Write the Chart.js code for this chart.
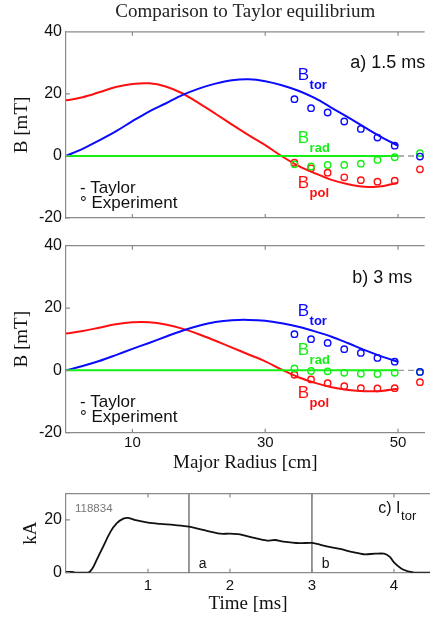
<!DOCTYPE html>
<html>
<head>
<meta charset="utf-8">
<script src="https://cdn.jsdelivr.net/npm/chart.js@4.4.1/dist/chart.umd.min.js"></script>
<style>
html, body { margin: 0; padding: 0; background: #fff; width: 430px; height: 620px; overflow: hidden; }
canvas { position: absolute; left: 0; }
</style>
</head>
<body>
<canvas id="chartA" width="430" height="232" style="top:0px"></canvas>
<canvas id="chartB" width="430" height="250" style="top:230px"></canvas>
<canvas id="chartC" width="430" height="140" style="top:480px"></canvas>
<script>
// Taylor equilibrium profiles (cm, mT)
var radius = [0, 2.5, 5, 7.5, 10, 12.5, 15, 17.5, 20, 22.5, 25, 27.5, 30, 32.5, 35, 37.5, 40, 42.5, 45, 47.5, 50];
var taylorTorA = [0, 2.3, 5.0, 7.9, 11.2, 14.3, 16.9, 19.6, 21.7, 23.3, 24.4, 24.7, 24.1, 22.8, 21.0, 18.6, 15.5, 12.4, 9.2, 6.1, 3.3];
var taylorPolA = [17.9, 18.9, 20.5, 22.2, 23.2, 23.4, 22.4, 20.2, 17.0, 13.6, 10.1, 6.7, 3.5, -0.1, -3.2, -5.6, -7.7, -9.1, -9.9, -9.8, -8.6];
var taylorRadA = [0, 0, 0, 0, 0, 0, 0, 0, 0, 0, 0, 0, 0, 0, 0, 0, 0, 0, 0, 0, 0];
var taylorTorB = [0, 1.4, 3.0, 4.9, 6.9, 8.8, 10.8, 12.7, 14.3, 15.5, 16.1, 16.2, 15.9, 15.1, 14.0, 12.5, 10.8, 8.7, 6.5, 4.5, 2.7];
var taylorPolB = [11.8, 12.6, 13.7, 14.8, 15.4, 15.4, 14.7, 13.4, 11.6, 9.5, 7.3, 5.1, 2.9, 0.2, -2.2, -4.0, -5.4, -6.3, -6.7, -6.6, -5.9];
var taylorRadB = [0, 0, 0, 0, 0, 0, 0, 0, 0, 0, 0, 0, 0, 0, 0, 0, 0, 0, 0, 0, 0];

// probe measurements
var probeRadius = [34.4, 36.9, 39.4, 41.9, 44.4, 46.9, 49.5, 53.3];
var expTorA = [18.3, 15.4, 14.0, 11.1, 8.7, 5.9, 3.3, -0.2];
var expRadA = [-2.7, -3.4, -2.9, -2.9, -2.5, -1.3, -0.4, 0.9];
var expPolA = [-2.2, -4.0, -5.4, -6.9, -7.8, -8.3, -8.0, -4.3];
var expTorB = [11.6, 10.0, 8.8, 6.8, 5.6, 4.0, 2.8, -0.5];
var expRadB = [0.6, -0.2, -0.3, -0.8, -1.1, -1.2, -0.8, -0.5];
var expPolB = [-1.4, -2.9, -4.1, -5.1, -5.7, -5.8, -5.7, -3.8];

// toroidal current, shot 118834 (ms, kA)
var time = [0, 0.08, 0.12, 0.27, 0.32, 0.37, 0.455, 0.54, 0.62, 0.70, 0.76, 0.85, 1.0, 1.15, 1.31, 1.5, 1.67, 1.88, 2.0, 2.12, 2.28, 2.45, 2.55, 2.65, 2.85, 3.0, 3.18, 3.34, 3.5, 3.63, 3.77, 3.88, 3.95, 4.01, 4.11, 4.24, 4.44];
var current = [0.3, 0.3, 0, 0, 1.5, 4.6, 10.0, 15.4, 18.8, 20.5, 20.8, 19.9, 19.0, 18.5, 18.1, 17.5, 16.2, 14.8, 14.8, 14.5, 13.3, 12.2, 12.4, 11.8, 11.2, 11.3, 10.0, 9.0, 7.8, 7.0, 7.2, 7.2, 6.0, 3.6, 1.2, 0.1, 0];
var markerTimes = [1.5, 3];
var markerNames = ['a', 'b'];

var radiusTicks = [10, 30, 50];
var fieldTicks = [-20, 0, 20, 40];
var timeTicks = [1, 2, 3, 4];
var currentTicks = [0, 20];

var BLUE = '#0a0aff', RED = '#ff1010', GREEN = '#14f014', FRAME = '#8a8a8a';
var SANS = '"Liberation Sans", Arial, sans-serif';
var SERIF = '"Liberation Serif", "Times New Roman", serif';

function pts(xs, ys) {
    return xs.map(function (x, i) { return { x: x, y: ys[i] }; });
}

function fixTicks(list) {
    return function (scale) {
        scale.ticks = list.map(function (v) { return { value: v }; });
    };
}

// top border and small inward tick marks
var frame = {
    id: 'frame',
    afterDraw: function (chart) {
        var ctx = chart.ctx, a = chart.chartArea;
        var sx = chart.scales.x, sy = chart.scales.y;
        ctx.save();
        ctx.strokeStyle = FRAME;
        ctx.lineWidth = 1.2;
        ctx.beginPath();
        ctx.moveTo(a.left, a.top);
        ctx.lineTo(a.right, a.top);
        sx.ticks.forEach(function (t) {
            var px = sx.getPixelForValue(t.value);
            ctx.moveTo(px, a.top); ctx.lineTo(px, a.top + 4);
            ctx.moveTo(px, a.bottom); ctx.lineTo(px, a.bottom - 4);
        });
        sy.ticks.forEach(function (t) {
            var py = sy.getPixelForValue(t.value);
            ctx.moveTo(a.left, py); ctx.lineTo(a.left + 4, py);
        });
        ctx.stroke();
        ctx.restore();
    }
};

// text labels placed in data units
var notes = {
    id: 'notes',
    afterDraw: function (chart, args, opts) {
        var ctx = chart.ctx, sx = chart.scales.x, sy = chart.scales.y;
        ctx.save();
        ctx.textBaseline = 'alphabetic';
        ctx.textAlign = 'left';
        (opts.items || []).forEach(function (n) {
            var px = sx.getPixelForValue(n.x), py = sy.getPixelForValue(n.y);
            ctx.fillStyle = n.color || '#111';
            ctx.font = n.font || ('17px ' + SANS);
            ctx.fillText(n.text, px, py);
            if (n.sub) {
                var w = ctx.measureText(n.text).width;
                ctx.font = n.subFont || ('bold 13px ' + SANS);
                ctx.fillText(n.sub, px + w + 0.5, py + (n.subDy || 9));
            }
        });
        ctx.restore();
    }
};

function lineSet(data, color) {
    return { data: data, borderColor: color, borderWidth: 2, pointRadius: 0, tension: 0.35, fill: false };
}

function probeSet(data, color) {
    return { data: data, showLine: false, borderColor: color, pointBorderColor: color, pointBackgroundColor: 'rgba(0,0,0,0)', pointRadius: 3.2, pointBorderWidth: 1.4 };
}

function fieldChart(id, tor, pol, rad, eTor, eRad, ePol, opt) {
    var lastR = radius[radius.length - 1];
    return new Chart(document.getElementById(id).getContext('2d'), {
        type: 'line',
        data: {
            datasets: [
                probeSet(pts(probeRadius, eTor), BLUE),
                probeSet(pts(probeRadius, eRad), GREEN),
                probeSet(pts(probeRadius, ePol), RED),
                lineSet(pts(radius, rad), GREEN),
                lineSet(pts(radius, tor), BLUE),
                lineSet(pts(radius, pol), RED),
                { data: pts([lastR, opt.xMax], [0, 0]), borderColor: '#999', borderWidth: 1.4, borderDash: [6, 4], pointRadius: 0 }
            ]
        },
        options: {
            responsive: false,
            animation: false,
            layout: { padding: { top: opt.padTop, left: 0, right: 0, bottom: 0 } },
            scales: {
                x: {
                    type: 'linear', min: 0, max: opt.xMax,
                    afterBuildTicks: fixTicks(radiusTicks),
                    afterFit: function (s) { s.height = opt.xHeight; },
                    grid: { display: false, drawTicks: false },
                    border: { color: FRAME, width: 1.2 },
                    ticks: { display: opt.xLabels, font: { family: SANS, size: 15 }, color: '#111', padding: 1, maxRotation: 0 },
                    title: { display: opt.xLabels, text: 'Major Radius [cm]', font: { family: SERIF, size: 19 }, color: '#111', padding: { bottom: 6, top: 0 } }
                },
                y: {
                    min: -20, max: 40,
                    afterBuildTicks: fixTicks(fieldTicks),
                    afterFit: function (s) { s.width = 66; },
                    grid: { display: false, drawTicks: false },
                    border: { color: FRAME, width: 1.2 },
                    ticks: { font: { family: SANS, size: 16 }, color: '#111', padding: 4 },
                    title: { display: true, text: 'B [mT]', font: { family: SERIF, size: 19 }, color: '#111', padding: { top: 11, bottom: 0 } }
                }
            },
            plugins: {
                legend: { display: false },
                tooltip: { enabled: false },
                title: opt.title ? { display: true, text: opt.title, fullSize: false, font: { family: SERIF, size: 19, weight: 'normal' }, color: '#222', padding: { top: 1, bottom: 8 } } : { display: false },
                notes: { items: opt.notes }
            }
        },
        plugins: [frame, notes]
    });
}

fieldChart('chartA', taylorTorA, taylorPolA, taylorRadA, expTorA, expRadA, expPolA, {
    xMax: 54, padTop: 0, xHeight: 14, xLabels: false,
    title: 'Comparison to Taylor equilibrium',
    notes: [
        { x: 42.8, y: 28.3, text: 'a) 1.5 ms', font: '18px ' + SANS },
        { x: 34.9, y: 24.5, text: 'B', sub: 'tor', color: BLUE },
        { x: 34.9, y: 4.1, text: 'B', sub: 'rad', color: GREEN },
        { x: 34.9, y: -10.4, text: 'B', sub: 'pol', color: RED },
        { x: 2.1, y: -11.8, text: '- Taylor' },
        { x: 2.1, y: -16.9, text: '\u00b0 Experiment' }
    ]
});

fieldChart('chartB', taylorTorB, taylorPolB, taylorRadB, expTorB, expRadB, expPolB, {
    xMax: 54, padTop: 15.7, xHeight: 47.3, xLabels: true,
    notes: [
        { x: 43.1, y: 28, text: 'b) 3 ms', font: '18px ' + SANS },
        { x: 34.9, y: 17.5, text: 'B', sub: 'tor', color: BLUE },
        { x: 34.9, y: 4.8, text: 'B', sub: 'rad', color: GREEN },
        { x: 34.9, y: -8.9, text: 'B', sub: 'pol', color: RED },
        { x: 2.1, y: -11.8, text: '- Taylor' },
        { x: 2.1, y: -16.7, text: '\u00b0 Experiment' }
    ]
});

var markerSets = markerTimes.map(function (t) {
    return { data: pts([t, t], [0, 30]), borderColor: '#555', borderWidth: 1.2, pointRadius: 0 };
});
var markerNotes = markerTimes.map(function (t, i) {
    return { x: t + 0.12, y: 1.9, text: markerNames[i], font: '14px ' + SANS };
});

new Chart(document.getElementById('chartC').getContext('2d'), {
    type: 'line',
    data: {
        datasets: [
            { data: pts(time, current), borderColor: '#111', borderWidth: 1.8, pointRadius: 0, tension: 0.3 }
        ].concat(markerSets)
    },
    options: {
        responsive: false,
        animation: false,
        layout: { padding: { top: 10, left: 0, right: 0, bottom: 0 } },
        scales: {
            x: {
                type: 'linear', min: 0, max: 4.44,
                afterBuildTicks: fixTicks(timeTicks),
                afterFit: function (s) { s.height = 47.3; },
                grid: { display: false, drawTicks: false },
                border: { color: FRAME, width: 1.2 },
                ticks: { font: { family: SANS, size: 15 }, color: '#111', padding: 4, maxRotation: 0 },
                title: { display: true, text: 'Time [ms]', font: { family: SERIF, size: 19 }, color: '#111', padding: { bottom: 5, top: 0 } }
            },
            y: {
                min: 0, max: 30,
                afterBuildTicks: fixTicks(currentTicks),
                afterFit: function (s) { s.width = 66; },
                grid: { display: false, drawTicks: false },
                border: { color: FRAME, width: 1.2 },
                ticks: { font: { family: SANS, size: 16 }, color: '#111', padding: 4 },
                title: { display: true, text: 'kA', font: { family: SERIF, size: 19 }, color: '#111', padding: { top: 20, bottom: 0 } }
            }
        },
        plugins: {
            legend: { display: false },
            tooltip: { enabled: false },
            notes: {
                items: [
                    { x: 0.11, y: 23.2, text: '118834', font: '11.5px ' + SANS, color: '#777' },
                    { x: 3.81, y: 22.6, text: 'c) I', sub: 'tor', subDy: 7, font: '16px ' + SANS, subFont: '13px ' + SANS }
                ].concat(markerNotes)
            }
        }
    },
    plugins: [frame, notes]
});
</script>
</body>
</html>
